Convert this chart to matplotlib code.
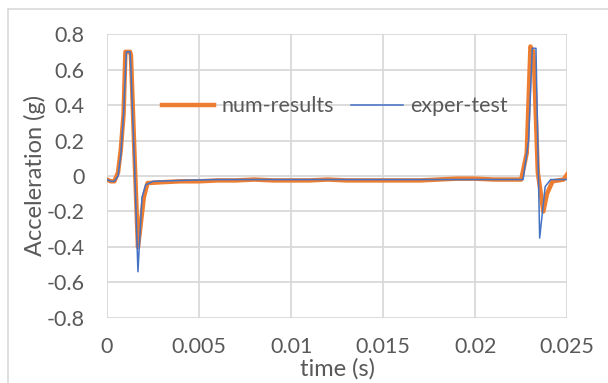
import matplotlib
matplotlib.use("Agg")
import matplotlib.pyplot as plt
from matplotlib.lines import Line2D

plt.rcParams['font.family'] = ['Lato', 'DejaVu Sans']

# numerical results (orange)
t_num = [0, 0.0002, 0.0004, 0.0006, 0.00075, 0.0009, 0.001, 0.00125, 0.0013, 0.0015,
         0.00168, 0.0018, 0.002, 0.0022, 0.003, 0.004, 0.005, 0.006, 0.007, 0.008,
         0.009, 0.010, 0.011, 0.012, 0.013, 0.014, 0.015, 0.016, 0.017, 0.018,
         0.019, 0.020, 0.021, 0.022, 0.0225, 0.0228, 0.0230, 0.02315, 0.0232, 0.0234,
         0.0237, 0.0239, 0.0242, 0.0248, 0.025]
a_num = [-0.02, -0.03, -0.03, 0.02, 0.15, 0.35, 0.70, 0.70, 0.68, 0.10,
         -0.40, -0.30, -0.12, -0.04, -0.035, -0.03, -0.03, -0.025, -0.025, -0.02,
         -0.025, -0.025, -0.025, -0.02, -0.025, -0.025, -0.025, -0.025, -0.025, -0.02,
         -0.015, -0.015, -0.02, -0.02, -0.02, 0.13, 0.73, 0.70, 0.62, 0.02,
         -0.20, -0.10, -0.03, -0.02, 0.01]

# experimental test (blue)
t_exp = [0, 0.0002, 0.0004, 0.0006, 0.00075, 0.0009, 0.00105, 0.00125, 0.0013, 0.0015,
         0.00168, 0.0019, 0.0021, 0.0025, 0.004, 0.006, 0.008, 0.010, 0.012, 0.014,
         0.016, 0.018, 0.020, 0.022, 0.0226, 0.0229, 0.0231, 0.0233, 0.0235, 0.0238,
         0.0241, 0.0245, 0.025]
a_exp = [-0.02, -0.03, -0.03, 0.0, 0.12, 0.35, 0.70, 0.70, 0.60, 0.05,
         -0.54, -0.12, -0.05, -0.03, -0.025, -0.02, -0.02, -0.02, -0.02, -0.02,
         -0.02, -0.02, -0.02, -0.02, -0.02, 0.20, 0.72, 0.72, -0.35, -0.06,
         -0.02, -0.02, -0.02]

xticks = [0, 0.005, 0.01, 0.015, 0.02, 0.025]
xtick_labels = ['0', '0.005', '0.01', '0.015', '0.02', '0.025']
yticks = [-0.8, -0.6, -0.4, -0.2, 0, 0.2, 0.4, 0.6, 0.8]
ytick_labels = ['-0.8', '-0.6', '-0.4', '-0.2', '0', '0.2', '0.4', '0.6', '0.8']

txt_col = '#595959'

fig = plt.figure(figsize=(6.08, 3.83), dpi=100)
ax = fig.add_axes([0.176, 0.170, 0.757, 0.741])

ax.plot(t_num, a_num, color='#ED7D31', lw=3.2, label='num-results', solid_joinstyle='round')
ax.plot(t_exp, a_exp, color='#4472C4', lw=1.1, label='exper-test')

ax.set_xlim(0, 0.025)
ax.set_ylim(-0.8, 0.8)
ax.set_xticks(xticks, xtick_labels)
ax.set_yticks(yticks, ytick_labels)
ax.grid(True, color='#d9d9d9', lw=1.3)
ax.set_axisbelow(True)
for s in ax.spines.values():
    s.set_visible(False)
ax.tick_params(length=0, labelsize=15.5, colors=txt_col)
ax.tick_params(axis='x', pad=14)
ax.tick_params(axis='y', pad=16)

ax.set_xlabel('time (s)', fontsize=17, color=txt_col)
ax.set_ylabel('Acceleration (g)', fontsize=17, color=txt_col)
ax.xaxis.set_label_coords(0.5, -0.140)
ax.yaxis.set_label_coords(-0.133, 0.5035)

leg = ax.legend(loc='center', bbox_to_anchor=(0.496, 0.746), ncol=2, frameon=False,
                fontsize=15.5, handlelength=2.4, handletextpad=0.35, columnspacing=0.8,
                borderpad=0, borderaxespad=0)
for txt in leg.get_texts():
    txt.set_color(txt_col)

# chart area border (open at right and bottom as in the crop)
fig.add_artist(Line2D([8 / 608, 8 / 608], [0, 1 - 9 / 383], transform=fig.transFigure,
                      color='#d9d9d9', lw=1.2))
fig.add_artist(Line2D([8 / 608, 1], [1 - 9 / 383, 1 - 9 / 383], transform=fig.transFigure,
                      color='#d9d9d9', lw=1.2))

fig.savefig('out.png', dpi=100)
